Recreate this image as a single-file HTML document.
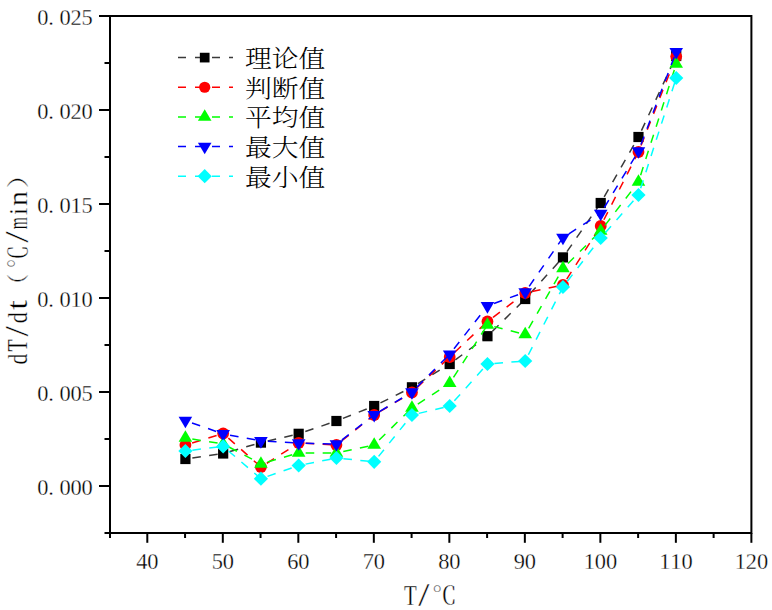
<!DOCTYPE html>
<html><head><meta charset="utf-8"><title>dT/dt chart</title>
<style>html,body{margin:0;padding:0;background:#fff;}body{width:772px;height:610px;overflow:hidden;}svg{display:block;}</style>
</head><body>
<svg width="772" height="610" viewBox="0 0 772 610">
<rect width="772" height="610" fill="#ffffff"/>
<g stroke="#3a3a3a" stroke-width="1.5" stroke-dasharray="8.6 8.4" stroke-dashoffset="10" fill="none"><line x1="185.41" y1="459.00" x2="223.16" y2="453.50"/><line x1="223.16" y1="453.50" x2="260.92" y2="442.60"/><line x1="260.92" y1="442.60" x2="298.67" y2="433.80"/><line x1="298.67" y1="433.80" x2="336.43" y2="421.00"/><line x1="336.43" y1="421.00" x2="374.18" y2="406.00"/><line x1="374.18" y1="406.00" x2="411.94" y2="387.30"/><line x1="411.94" y1="387.30" x2="449.69" y2="364.00"/><line x1="449.69" y1="364.00" x2="487.45" y2="336.20"/><line x1="487.45" y1="336.20" x2="525.20" y2="299.00"/><line x1="525.20" y1="299.00" x2="562.96" y2="257.40"/><line x1="562.96" y1="257.40" x2="600.71" y2="203.00"/><line x1="600.71" y1="203.00" x2="638.47" y2="137.00"/><line x1="638.47" y1="137.00" x2="676.22" y2="56.00"/></g>
<g><rect x="180.31" y="453.90" width="10.20" height="10.20" fill="#000000"/><rect x="218.06" y="448.40" width="10.20" height="10.20" fill="#000000"/><rect x="255.82" y="437.50" width="10.20" height="10.20" fill="#000000"/><rect x="293.57" y="428.70" width="10.20" height="10.20" fill="#000000"/><rect x="331.33" y="415.90" width="10.20" height="10.20" fill="#000000"/><rect x="369.08" y="400.90" width="10.20" height="10.20" fill="#000000"/><rect x="406.84" y="382.20" width="10.20" height="10.20" fill="#000000"/><rect x="444.59" y="358.90" width="10.20" height="10.20" fill="#000000"/><rect x="482.35" y="331.10" width="10.20" height="10.20" fill="#000000"/><rect x="520.10" y="293.90" width="10.20" height="10.20" fill="#000000"/><rect x="557.86" y="252.30" width="10.20" height="10.20" fill="#000000"/><rect x="595.61" y="197.90" width="10.20" height="10.20" fill="#000000"/><rect x="633.37" y="131.90" width="10.20" height="10.20" fill="#000000"/><rect x="671.12" y="50.90" width="10.20" height="10.20" fill="#000000"/></g>
<g stroke="#ff0000" stroke-width="1.5" stroke-dasharray="8.6 8.4" stroke-dashoffset="10" fill="none"><line x1="185.41" y1="445.00" x2="223.16" y2="433.50"/><line x1="223.16" y1="433.50" x2="260.92" y2="467.00"/><line x1="260.92" y1="467.00" x2="298.67" y2="443.00"/><line x1="298.67" y1="443.00" x2="336.43" y2="445.00"/><line x1="336.43" y1="445.00" x2="374.18" y2="415.00"/><line x1="374.18" y1="415.00" x2="411.94" y2="392.50"/><line x1="411.94" y1="392.50" x2="449.69" y2="357.00"/><line x1="449.69" y1="357.00" x2="487.45" y2="321.50"/><line x1="487.45" y1="321.50" x2="525.20" y2="293.00"/><line x1="525.20" y1="293.00" x2="562.96" y2="285.00"/><line x1="562.96" y1="285.00" x2="600.71" y2="226.00"/><line x1="600.71" y1="226.00" x2="638.47" y2="152.00"/><line x1="638.47" y1="152.00" x2="676.22" y2="56.60"/></g>
<g><circle cx="185.41" cy="445.00" r="5.90" fill="#ff0000"/><circle cx="223.16" cy="433.50" r="5.90" fill="#ff0000"/><circle cx="260.92" cy="467.00" r="5.90" fill="#ff0000"/><circle cx="298.67" cy="443.00" r="5.90" fill="#ff0000"/><circle cx="336.43" cy="445.00" r="5.90" fill="#ff0000"/><circle cx="374.18" cy="415.00" r="5.90" fill="#ff0000"/><circle cx="411.94" cy="392.50" r="5.90" fill="#ff0000"/><circle cx="449.69" cy="357.00" r="5.90" fill="#ff0000"/><circle cx="487.45" cy="321.50" r="5.90" fill="#ff0000"/><circle cx="525.20" cy="293.00" r="5.90" fill="#ff0000"/><circle cx="562.96" cy="285.00" r="5.90" fill="#ff0000"/><circle cx="600.71" cy="226.00" r="5.90" fill="#ff0000"/><circle cx="638.47" cy="152.00" r="5.90" fill="#ff0000"/><circle cx="676.22" cy="56.60" r="5.90" fill="#ff0000"/></g>
<g stroke="#00ff00" stroke-width="1.5" stroke-dasharray="8.6 8.4" stroke-dashoffset="10" fill="none"><line x1="185.41" y1="437.90" x2="223.16" y2="444.00"/><line x1="223.16" y1="444.00" x2="260.92" y2="463.90"/><line x1="260.92" y1="463.90" x2="298.67" y2="452.90"/><line x1="298.67" y1="452.90" x2="336.43" y2="453.00"/><line x1="336.43" y1="453.00" x2="374.18" y2="444.90"/><line x1="374.18" y1="444.90" x2="411.94" y2="407.90"/><line x1="411.94" y1="407.90" x2="449.69" y2="383.20"/><line x1="449.69" y1="383.20" x2="487.45" y2="324.90"/><line x1="487.45" y1="324.90" x2="525.20" y2="334.50"/><line x1="525.20" y1="334.50" x2="562.96" y2="268.50"/><line x1="562.96" y1="268.50" x2="600.71" y2="230.90"/><line x1="600.71" y1="230.90" x2="638.47" y2="181.90"/><line x1="638.47" y1="181.90" x2="676.22" y2="64.00"/></g>
<g><polygon points="185.41,430.17 192.21,441.77 178.60,441.77" fill="#00ff00"/><polygon points="223.16,436.27 229.96,447.87 216.36,447.87" fill="#00ff00"/><polygon points="260.92,456.17 267.72,467.77 254.12,467.77" fill="#00ff00"/><polygon points="298.67,445.17 305.47,456.77 291.87,456.77" fill="#00ff00"/><polygon points="336.43,445.27 343.23,456.87 329.63,456.87" fill="#00ff00"/><polygon points="374.18,437.17 380.98,448.77 367.38,448.77" fill="#00ff00"/><polygon points="411.94,400.17 418.74,411.77 405.14,411.77" fill="#00ff00"/><polygon points="449.69,375.47 456.49,387.07 442.89,387.07" fill="#00ff00"/><polygon points="487.45,317.17 494.25,328.77 480.65,328.77" fill="#00ff00"/><polygon points="525.20,326.77 532.00,338.37 518.40,338.37" fill="#00ff00"/><polygon points="562.96,260.77 569.75,272.37 556.16,272.37" fill="#00ff00"/><polygon points="600.71,223.17 607.51,234.77 593.91,234.77" fill="#00ff00"/><polygon points="638.47,174.17 645.26,185.77 631.67,185.77" fill="#00ff00"/><polygon points="676.22,56.27 683.02,67.87 669.42,67.87" fill="#00ff00"/></g>
<g stroke="#0000ff" stroke-width="1.5" stroke-dasharray="8.6 8.4" stroke-dashoffset="10" fill="none"><line x1="185.41" y1="420.60" x2="223.16" y2="433.90"/><line x1="223.16" y1="433.90" x2="260.92" y2="440.90"/><line x1="260.92" y1="440.90" x2="298.67" y2="443.10"/><line x1="298.67" y1="443.10" x2="336.43" y2="444.10"/><line x1="336.43" y1="444.10" x2="374.18" y2="414.80"/><line x1="374.18" y1="414.80" x2="411.94" y2="392.10"/><line x1="411.94" y1="392.10" x2="449.69" y2="354.30"/><line x1="449.69" y1="354.30" x2="487.45" y2="305.90"/><line x1="487.45" y1="305.90" x2="525.20" y2="292.10"/><line x1="525.20" y1="292.10" x2="562.96" y2="237.60"/><line x1="562.96" y1="237.60" x2="600.71" y2="213.50"/><line x1="600.71" y1="213.50" x2="638.47" y2="151.10"/><line x1="638.47" y1="151.10" x2="676.22" y2="51.80"/></g>
<g><polygon points="178.60,416.73 192.21,416.73 185.41,428.33" fill="#0000ff"/><polygon points="216.36,430.03 229.96,430.03 223.16,441.63" fill="#0000ff"/><polygon points="254.12,437.03 267.72,437.03 260.92,448.63" fill="#0000ff"/><polygon points="291.87,439.23 305.47,439.23 298.67,450.83" fill="#0000ff"/><polygon points="329.63,440.23 343.23,440.23 336.43,451.83" fill="#0000ff"/><polygon points="367.38,410.93 380.98,410.93 374.18,422.53" fill="#0000ff"/><polygon points="405.14,388.23 418.74,388.23 411.94,399.83" fill="#0000ff"/><polygon points="442.89,350.43 456.49,350.43 449.69,362.03" fill="#0000ff"/><polygon points="480.65,302.03 494.25,302.03 487.45,313.63" fill="#0000ff"/><polygon points="518.40,288.23 532.00,288.23 525.20,299.83" fill="#0000ff"/><polygon points="556.16,233.73 569.75,233.73 562.96,245.33" fill="#0000ff"/><polygon points="593.91,209.63 607.51,209.63 600.71,221.23" fill="#0000ff"/><polygon points="631.67,147.23 645.26,147.23 638.47,158.83" fill="#0000ff"/><polygon points="669.42,47.93 683.02,47.93 676.22,59.53" fill="#0000ff"/></g>
<g stroke="#00ffff" stroke-width="1.5" stroke-dasharray="8.6 8.4" stroke-dashoffset="10" fill="none"><line x1="185.41" y1="451.00" x2="223.16" y2="446.40"/><line x1="223.16" y1="446.40" x2="260.92" y2="478.70"/><line x1="260.92" y1="478.70" x2="298.67" y2="465.50"/><line x1="298.67" y1="465.50" x2="336.43" y2="458.00"/><line x1="336.43" y1="458.00" x2="374.18" y2="461.80"/><line x1="374.18" y1="461.80" x2="411.94" y2="415.00"/><line x1="411.94" y1="415.00" x2="449.69" y2="406.00"/><line x1="449.69" y1="406.00" x2="487.45" y2="364.00"/><line x1="487.45" y1="364.00" x2="525.20" y2="361.00"/><line x1="525.20" y1="361.00" x2="562.96" y2="287.00"/><line x1="562.96" y1="287.00" x2="600.71" y2="238.00"/><line x1="600.71" y1="238.00" x2="638.47" y2="195.00"/><line x1="638.47" y1="195.00" x2="676.22" y2="78.00"/></g>
<g><polygon points="185.41,443.90 192.50,451.00 185.41,458.10 178.31,451.00" fill="#00ffff"/><polygon points="223.16,439.30 230.26,446.40 223.16,453.50 216.06,446.40" fill="#00ffff"/><polygon points="260.92,471.60 268.02,478.70 260.92,485.80 253.82,478.70" fill="#00ffff"/><polygon points="298.67,458.40 305.77,465.50 298.67,472.60 291.57,465.50" fill="#00ffff"/><polygon points="336.43,450.90 343.53,458.00 336.43,465.10 329.33,458.00" fill="#00ffff"/><polygon points="374.18,454.70 381.28,461.80 374.18,468.90 367.08,461.80" fill="#00ffff"/><polygon points="411.94,407.90 419.04,415.00 411.94,422.10 404.84,415.00" fill="#00ffff"/><polygon points="449.69,398.90 456.79,406.00 449.69,413.10 442.59,406.00" fill="#00ffff"/><polygon points="487.45,356.90 494.55,364.00 487.45,371.10 480.35,364.00" fill="#00ffff"/><polygon points="525.20,353.90 532.30,361.00 525.20,368.10 518.10,361.00" fill="#00ffff"/><polygon points="562.96,279.90 570.06,287.00 562.96,294.10 555.86,287.00" fill="#00ffff"/><polygon points="600.71,230.90 607.81,238.00 600.71,245.10 593.61,238.00" fill="#00ffff"/><polygon points="638.47,187.90 645.57,195.00 638.47,202.10 631.37,195.00" fill="#00ffff"/><polygon points="676.22,70.90 683.32,78.00 676.22,85.10 669.12,78.00" fill="#00ffff"/></g>
<g stroke="#000" stroke-width="2" fill="none" stroke-linecap="butt">
<path d="M110,16 H751.4 V533 H110 Z" stroke-linejoin="miter"/>
<line x1="99" y1="16" x2="110" y2="16"/>
<line x1="99" y1="110" x2="110" y2="110"/>
<line x1="99" y1="204" x2="110" y2="204"/>
<line x1="99" y1="298" x2="110" y2="298"/>
<line x1="99" y1="392" x2="110" y2="392"/>
<line x1="99" y1="486" x2="110" y2="486"/>
<line x1="104.5" y1="63" x2="110" y2="63"/>
<line x1="104.5" y1="157" x2="110" y2="157"/>
<line x1="104.5" y1="251" x2="110" y2="251"/>
<line x1="104.5" y1="345" x2="110" y2="345"/>
<line x1="104.5" y1="439" x2="110" y2="439"/>
<line x1="104.5" y1="533" x2="110" y2="533"/>
<line x1="147.30" y1="533" x2="147.30" y2="542.8"/>
<line x1="222.81" y1="533" x2="222.81" y2="542.8"/>
<line x1="298.32" y1="533" x2="298.32" y2="542.8"/>
<line x1="373.83" y1="533" x2="373.83" y2="542.8"/>
<line x1="449.34" y1="533" x2="449.34" y2="542.8"/>
<line x1="524.85" y1="533" x2="524.85" y2="542.8"/>
<line x1="600.36" y1="533" x2="600.36" y2="542.8"/>
<line x1="675.87" y1="533" x2="675.87" y2="542.8"/>
<line x1="751.38" y1="533" x2="751.38" y2="542.8"/>
<line x1="110.00" y1="533" x2="110.00" y2="538"/>
<line x1="185.06" y1="533" x2="185.06" y2="538"/>
<line x1="260.56" y1="533" x2="260.56" y2="538"/>
<line x1="336.08" y1="533" x2="336.08" y2="538"/>
<line x1="411.59" y1="533" x2="411.59" y2="538"/>
<line x1="487.10" y1="533" x2="487.10" y2="538"/>
<line x1="562.61" y1="533" x2="562.61" y2="538"/>
<line x1="638.12" y1="533" x2="638.12" y2="538"/>
<line x1="713.62" y1="533" x2="713.62" y2="538"/>
</g>
<text x="37.20 48.30 59.40 70.50 81.60" y="24.50" style="font-family:'Liberation Serif','Noto Serif CJK SC',serif;font-size:22.4px;stroke:#fff;stroke-width:0.3px" >0.025</text>
<text x="37.20 48.30 59.40 70.50 81.60" y="118.50" style="font-family:'Liberation Serif','Noto Serif CJK SC',serif;font-size:22.4px;stroke:#fff;stroke-width:0.3px" >0.020</text>
<text x="37.20 48.30 59.40 70.50 81.60" y="212.50" style="font-family:'Liberation Serif','Noto Serif CJK SC',serif;font-size:22.4px;stroke:#fff;stroke-width:0.3px" >0.015</text>
<text x="37.20 48.30 59.40 70.50 81.60" y="306.50" style="font-family:'Liberation Serif','Noto Serif CJK SC',serif;font-size:22.4px;stroke:#fff;stroke-width:0.3px" >0.010</text>
<text x="37.20 48.30 59.40 70.50 81.60" y="400.50" style="font-family:'Liberation Serif','Noto Serif CJK SC',serif;font-size:22.4px;stroke:#fff;stroke-width:0.3px" >0.005</text>
<text x="37.20 48.30 59.40 70.50 81.60" y="494.50" style="font-family:'Liberation Serif','Noto Serif CJK SC',serif;font-size:22.4px;stroke:#fff;stroke-width:0.3px" >0.000</text>
<text x="136.20 147.30" y="569.00" style="font-family:'Liberation Serif','Noto Serif CJK SC',serif;font-size:22.4px;stroke:#fff;stroke-width:0.3px" >40</text>
<text x="211.71 222.81" y="569.00" style="font-family:'Liberation Serif','Noto Serif CJK SC',serif;font-size:22.4px;stroke:#fff;stroke-width:0.3px" >50</text>
<text x="287.22 298.32" y="569.00" style="font-family:'Liberation Serif','Noto Serif CJK SC',serif;font-size:22.4px;stroke:#fff;stroke-width:0.3px" >60</text>
<text x="362.73 373.83" y="569.00" style="font-family:'Liberation Serif','Noto Serif CJK SC',serif;font-size:22.4px;stroke:#fff;stroke-width:0.3px" >70</text>
<text x="438.24 449.34" y="569.00" style="font-family:'Liberation Serif','Noto Serif CJK SC',serif;font-size:22.4px;stroke:#fff;stroke-width:0.3px" >80</text>
<text x="513.75 524.85" y="569.00" style="font-family:'Liberation Serif','Noto Serif CJK SC',serif;font-size:22.4px;stroke:#fff;stroke-width:0.3px" >90</text>
<text x="583.71 594.81 605.91" y="569.00" style="font-family:'Liberation Serif','Noto Serif CJK SC',serif;font-size:22.4px;stroke:#fff;stroke-width:0.3px" >100</text>
<text x="659.22 670.32 681.42" y="569.00" style="font-family:'Liberation Serif','Noto Serif CJK SC',serif;font-size:22.4px;stroke:#fff;stroke-width:0.3px" >110</text>
<text x="734.73 745.83 756.93" y="569.00" style="font-family:'Liberation Serif','Noto Serif CJK SC',serif;font-size:22.4px;stroke:#fff;stroke-width:0.3px" >120</text>
<g><text x="0" y="0" transform="translate(403.92 604.80) scale(0.7332 1)" style="font-family:'Liberation Serif','Noto Serif CJK SC',serif;font-size:28.41px;stroke:#fff;stroke-width:0.3px">T</text><text x="0" y="0" transform="translate(418.30 605.98) scale(1.2202 1)" style="font-family:'Liberation Serif','Noto Serif CJK SC',serif;font-size:33.04px;stroke:#fff;stroke-width:0.3px">/</text><text x="0" y="0" transform="translate(431.97 604.01) scale(1.0164 1)" style="font-family:'Liberation Serif','Noto Serif CJK SC',serif;font-size:24.39px;stroke:#fff;stroke-width:0.3px">℃</text></g>
<g transform="rotate(-90)"><text x="0" y="0" transform="translate(-364.38 26.54) scale(0.8078 1)" style="font-family:'Liberation Serif','Noto Serif CJK SC',serif;font-size:26.86px;stroke:#fff;stroke-width:0.3px">d</text><text x="0" y="0" transform="translate(-351.46 26.80) scale(0.6965 1)" style="font-family:'Liberation Serif','Noto Serif CJK SC',serif;font-size:28.41px;stroke:#fff;stroke-width:0.3px">T</text><text x="0" y="0" transform="translate(-336.60 28.08) scale(1.1331 1)" style="font-family:'Liberation Serif','Noto Serif CJK SC',serif;font-size:33.04px;stroke:#fff;stroke-width:0.3px">/</text><text x="0" y="0" transform="translate(-323.20 26.54) scale(0.8243 1)" style="font-family:'Liberation Serif','Noto Serif CJK SC',serif;font-size:26.86px;stroke:#fff;stroke-width:0.3px">d</text><text x="0" y="0" transform="translate(-309.64 26.52) scale(1.1974 1)" style="font-family:'Liberation Serif','Noto Serif CJK SC',serif;font-size:28.98px;stroke:#fff;stroke-width:0.3px">t</text><text x="0" y="0" transform="translate(-295.97 25.53) scale(0.9974 1)" style="font-family:'Liberation Serif','Noto Serif CJK SC',serif;font-size:22.44px;stroke:#fff;stroke-width:0.3px">（</text><text x="0" y="0" transform="translate(-268.31 26.60) scale(0.9230 1)" style="font-family:'Liberation Serif','Noto Serif CJK SC',serif;font-size:25.03px;stroke:#fff;stroke-width:0.3px">℃</text><text x="0" y="0" transform="translate(-242.70 28.08) scale(1.2638 1)" style="font-family:'Liberation Serif','Noto Serif CJK SC',serif;font-size:33.04px;stroke:#fff;stroke-width:0.3px">/</text><text x="0" y="0" transform="translate(-229.13 26.80) scale(0.5538 1)" style="font-family:'Liberation Serif','Noto Serif CJK SC',serif;font-size:28.01px;stroke:#fff;stroke-width:0.3px">m</text><text x="0" y="0" transform="translate(-214.94 26.80) scale(0.9818 1)" style="font-family:'Liberation Serif','Noto Serif CJK SC',serif;font-size:26.13px;stroke:#fff;stroke-width:0.3px">i</text><text x="0" y="0" transform="translate(-205.98 26.80) scale(1.0510 1)" style="font-family:'Liberation Serif','Noto Serif CJK SC',serif;font-size:28.01px;stroke:#fff;stroke-width:0.3px">n</text><text x="0" y="0" transform="translate(-188.41 25.53) scale(1.2779 1)" style="font-family:'Liberation Serif','Noto Serif CJK SC',serif;font-size:22.44px;stroke:#fff;stroke-width:0.3px">）</text></g>
<line x1="178" y1="57.60" x2="233" y2="57.60" stroke="#3a3a3a" stroke-width="1.5" stroke-dasharray="8 9"/>
<rect x="199.85" y="52.76" width="9.69" height="9.69" fill="#000000"/>
<text x="0" y="0" transform="translate(245 67.00) scale(1.03 0.9)" style="font-family:'Liberation Serif','Noto Serif CJK SC',serif;font-size:26px;font-weight:300">理论值</text>
<line x1="178" y1="87.25" x2="233" y2="87.25" stroke="#ff0000" stroke-width="1.5" stroke-dasharray="8 9"/>
<circle cx="204.70" cy="87.25" r="5.61" fill="#ff0000"/>
<text x="0" y="0" transform="translate(245 96.65) scale(1.03 0.9)" style="font-family:'Liberation Serif','Noto Serif CJK SC',serif;font-size:26px;font-weight:300">判断值</text>
<line x1="178" y1="116.90" x2="233" y2="116.90" stroke="#00ff00" stroke-width="1.5" stroke-dasharray="8 9"/>
<polygon points="204.70,109.17 211.50,120.77 197.90,120.77" fill="#00ff00"/>
<text x="0" y="0" transform="translate(245 126.30) scale(1.03 0.9)" style="font-family:'Liberation Serif','Noto Serif CJK SC',serif;font-size:26px;font-weight:300">平均值</text>
<line x1="178" y1="146.55" x2="233" y2="146.55" stroke="#0000ff" stroke-width="1.5" stroke-dasharray="8 9"/>
<polygon points="197.90,142.68 211.50,142.68 204.70,154.28" fill="#0000ff"/>
<text x="0" y="0" transform="translate(245 155.95) scale(1.03 0.9)" style="font-family:'Liberation Serif','Noto Serif CJK SC',serif;font-size:26px;font-weight:300">最大值</text>
<line x1="178" y1="176.20" x2="233" y2="176.20" stroke="#00ffff" stroke-width="1.5" stroke-dasharray="8 9"/>
<polygon points="204.70,169.10 211.80,176.20 204.70,183.30 197.60,176.20" fill="#00ffff"/>
<text x="0" y="0" transform="translate(245 185.60) scale(1.03 0.9)" style="font-family:'Liberation Serif','Noto Serif CJK SC',serif;font-size:26px;font-weight:300">最小值</text>
</svg>
</body></html>
